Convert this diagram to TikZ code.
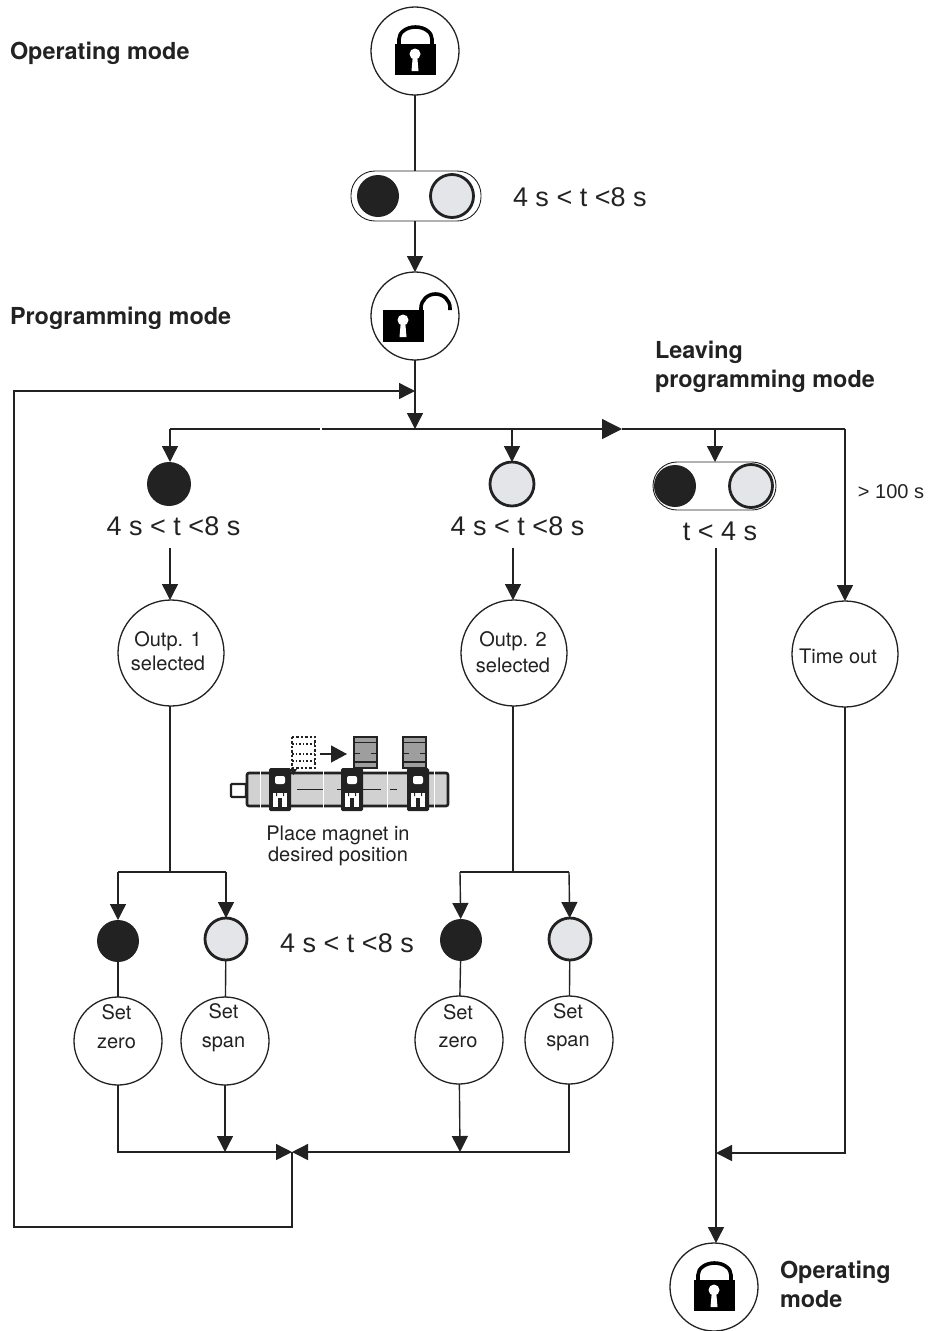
\documentclass[tikz,border=0pt]{standalone}
\usepackage{fontspec}
\setmainfont{TeX Gyre Heros}
\newfontfamily\arialish{Liberation Sans}
\usetikzlibrary{arrows.meta}
\definecolor{ink}{HTML}{222222}
\definecolor{lite}{HTML}{E4E5E9}
\newcommand{\fs}[1]{\fontsize{#1}{#1}\selectfont}
\tikzset{
  x=1pt,y=-1pt,
  every node/.style={inner sep=0pt,outer sep=0pt,text=ink},
  conn/.style={draw=ink,line width=1.4pt},
  arr/.style={conn,-{Triangle[width=16pt,length=16pt]}},
  bigc/.style={circle,draw=ink,line width=1.3pt,fill=white,minimum size=#1},
  dark/.style={circle,fill=ink,minimum size=#1},
  light/.style={circle,draw=ink,line width=2.8pt,fill=lite,minimum size=#1},
  pill/.style={draw=ink,line width=0.9pt,rounded corners=24pt,fill=white},
  head/.style={font=\fs{23.4}\bfseries,anchor=west,align=left},
  timing/.style={font=\arialish\fs{27}},
  small/.style={font=\fs{20},align=center},
  cap text/.style={font=\fs{20},align=center},
  lockclosed/.pic={
    \fill[black] (-20,-7) rectangle (21,24);
    \draw[black,line width=3.6pt] (-16,-7) -- (-16,-12) arc[start angle=180,end angle=0,x radius=16.5,y radius=-12] -- (17,-7);
    \fill[white] (0,3) circle (5.5);
    \fill[white] (-2,3) -- (2,3) -- (3.5,20) -- (-3.5,20) -- cycle;
  },
  lockopen/.pic={
    \fill[black] (-32,-6) rectangle (9,26);
    \draw[black,line width=3.6pt] (6,-6) -- (6,-8) arc[start angle=180,end angle=0,x radius=14.5,y radius=-14] -- (35,-6);
    \fill[white] (-12,4) circle (5.5);
    \fill[white] (-14,4) -- (-10,4) -- (-8.5,21) -- (-15.5,21) -- cycle;
  },
}
\begin{document}
\begin{tikzpicture}
\useasboundingbox (0,0) rectangle (944,1331);
% top column
\node[bigc=88pt] (opA) at (415,51) {};
\pic at (opA.center) {lockclosed};
\node[pill,minimum width=130pt,minimum height=50pt] (pillA) at (416,196) {};
\node[dark=42pt] (pAd) at (378,196) {};
\node[light=43pt] (pAl) at (452,196) {};
\node[bigc=88pt] (opB) at (415,316) {};
\pic at (opB.center) {lockopen};
\draw[conn] (opA) -- (pillA.north -| opA);
\draw[arr] (pillA.south -| opB) -- (opB);
% distribution line
\coordinate (hub) at (415,429);
\coordinate (inB) at (415,391);
\coordinate (jL) at (170,429);
\coordinate (jR) at (845,429);
\coordinate (gapL) at (319.5,429);
\coordinate (gapR) at (322,429);
\coordinate (tipR) at (622,429);
\coordinate (jM) at (512,429);
\coordinate (jP) at (715,429);
\draw[arr] (opB) -- (hub);
\draw[conn] (jL) -- (gapL);
\draw[conn,-{Triangle[width=20pt,length=20pt]}] (gapR) -- (tipR);
\draw[conn] (tipR) -- (jR);
% first row
\node[dark=44pt] (d1) at (169,484) {};
\node[light=44pt] (l1) at (512,484) {};
\node[pill,minimum width=123pt,minimum height=48pt] (pillB) at (714.5,486) {};
\node[dark=42pt] (pBd) at (675,486) {};
\node[light=43pt] (pBl) at (751,486) {};
\draw[arr] (jL) -- (jL |- d1.north);
\draw[arr] (jM) -- (l1);
\draw[arr] (jP) -- (jP |- pillB.north);
% timings
\node[timing] at (173.5,526) (t1) {4 s < t <8 s};
\node[timing] at (517.5,526) (t2) {4 s < t <8 s};
\node[timing] at (720,531) (t3) {t < 4 s};
\node[timing,anchor=west] at (513,197) (t0) {4 s < t <8 s};
\node[timing] at (347,943) (t4) {4 s < t <8 s};
\node[font=\arialish\fs{20}] at (891,492) (t5) {> 100 s};
% selection circles
\node[bigc=106pt] (o1) at (171,653) {};
\node[small] (o1t) at (168,651) {Outp. 1\\[4pt]selected};
\node[bigc=106pt] (o2) at (514,653) {};
\node[small] (o2t) at (513,652) {Outp. 2\\[6pt]selected};
\node[bigc=106pt] (to) at (845,654) {};
\node[small] (tot) at (838,656) {Time out};
\coordinate (s1) at (170,548);
\coordinate (s2) at (513,548);
\draw[arr] (s1) -- (s1 |- o1.north);
\draw[arr] (s2) -- (s2 |- o2.north);
\draw[arr] (jR) -- (to);
% output 1 tree
\coordinate (b1) at (170,872);
\coordinate (b1l) at (118,872);
\coordinate (b1r) at (226,872);
\node[dark=42pt] (d2) at (118,941) {};
\node[light=42pt] (l2) at (226,939) {};
\node[bigc=88pt] (z1) at (118,1041) {};
\node[small] (z1t) at (116.5,1027) {Set\\[9pt]zero};
\node[bigc=88pt] (s1n) at (225,1041) {};
\node[small] (s1t) at (223.5,1028) {Set\\[9pt]span};
\draw[conn] (b1 |- o1.south) -- (b1);
\draw[conn] (b1l) -- (b1r);
\draw[arr] (b1l) -- (d2);
\draw[arr] (b1r) -- (l2);
\draw[conn] (d2) -- (z1);
\draw[conn] (l2) -- (s1n);
% output 2 tree
\coordinate (b2) at (513,872);
\coordinate (b2l) at (460,872);
\coordinate (b2r) at (569,872);
\node[dark=42pt] (d3) at (461,940) {};
\node[light=42pt] (l3) at (570,939) {};
\node[bigc=88pt] (z2) at (459,1040) {};
\node[small] (z2t) at (458,1026) {Set\\[8pt]zero};
\node[bigc=88pt] (s2n) at (569,1040) {};
\node[small] (s2t) at (568,1027) {Set\\[8pt]span};
\draw[conn] (b2 |- o2.south) -- (b2);
\draw[conn] (b2l) -- (b2r);
\draw[arr] (b2l) -- (d3);
\draw[arr] (b2r) -- (l3);
\draw[conn] (d3) -- (z2);
\draw[conn] (l3) -- (s2n);
% collectors
\coordinate (mL) at (292,1152);
\coordinate (c1) at (118,1152);
\coordinate (c2) at (225,1152);
\coordinate (c3) at (460,1152);
\coordinate (c4) at (569,1152);
\coordinate (lb) at (292,1227);
\coordinate (lc) at (14,1227);
\coordinate (ld) at (14,391);
\draw[arr] (z1) -- (c1) -- (mL);
\draw[arr] (s1n) -- (c2);
\draw[arr] (z2) -- (c3);
\draw[arr] (s2n) -- (c4) -- (mL);
\draw[arr] (mL) -- (lb) -- (lc) -- (ld) -- (inB);
% right side
\node[bigc=88pt] (opC) at (714,1287) {};
\pic at (opC.center) {lockclosed};
\coordinate (cR) at (845,1153);
\coordinate (cM) at (716,1153);
\coordinate (s3) at (716,548);
\draw[arr] (s3) -- (s3 |- opC.north);
\draw[arr] (to) -- (cR) -- (cM);
% headings
\node[head] (h1) at (10,53) {Operating mode};
\node[head] (h2) at (10,318) {Programming mode};
\node[head,anchor=north west] (h3) at (655,341) {Leaving\\[5.5pt]programming mode};
\node[head,anchor=north west] (h4) at (780,1261) {Operating\\[5.5pt]mode};
% magnet sketch
\fill[black!18] (247,773) rectangle (448,806);
\draw[ink,line width=2.6pt,rounded corners=2pt] (247,773) rectangle (448,806);
\draw[ink,line width=2.4pt,rounded corners=1pt,fill=white] (231,784) rectangle (246,797);
\draw[ink,line width=1.4pt] (297,789.5) -- (323,789.5) (337,789.5) -- (381,789.5) (390,789.5) -- (397,789.5);
\foreach \bx in {269,341,407}{
  \fill[ink,rounded corners=1.5pt] (\bx,768) rectangle (\bx+22,811);
  \fill[white,rounded corners=2pt] (\bx+6,776) rectangle (\bx+16,784);
  \fill[white] (\bx+4,793) rectangle (\bx+18,807);
  \fill[ink] (\bx+9,798) rectangle (\bx+13,811);
  \fill[ink] (\bx+7,793) rectangle (\bx+8,796) (\bx+14,793) rectangle (\bx+15,796);
}
\draw[white,line width=1pt] (260,771) -- (260,808) (323,771) -- (323,808) (387,771) -- (387,808) (434,771) -- (434,808);
\foreach \mx in {354,403}{
  \fill[black!38] (\mx,737) rectangle (\mx+23,768);
  \draw[ink,line width=2.4pt] (\mx,737) rectangle (\mx+23,768);
  \draw[ink,line width=1.6pt] (\mx-1,742.5) -- (\mx+24,742.5) (\mx+1,753.5) -- (\mx+6,753.5) (\mx+17,753.5) -- (\mx+24,753.5) (\mx,762) -- (\mx+23,762);
}
\draw[ink,line width=2.4pt,dotted] (292,737) rectangle (315,768);
\draw[ink,line width=1.6pt,dotted] (292,744) -- (315,744) (292,754) -- (315,754) (292,761) -- (315,761);
\fill[ink] (290,769) -- (297,769) -- (293.5,775) -- cycle;
\coordinate (magA) at (320,754);
\coordinate (magB) at (347,754);
\draw[draw=ink,line width=1.2pt,-{Triangle[width=17pt,length=16pt]}] (magA) -- (magB);
\node[cap text] (cap) at (338,846) {Place magnet in\\[1pt]desired position};
\end{tikzpicture}
\end{document}
